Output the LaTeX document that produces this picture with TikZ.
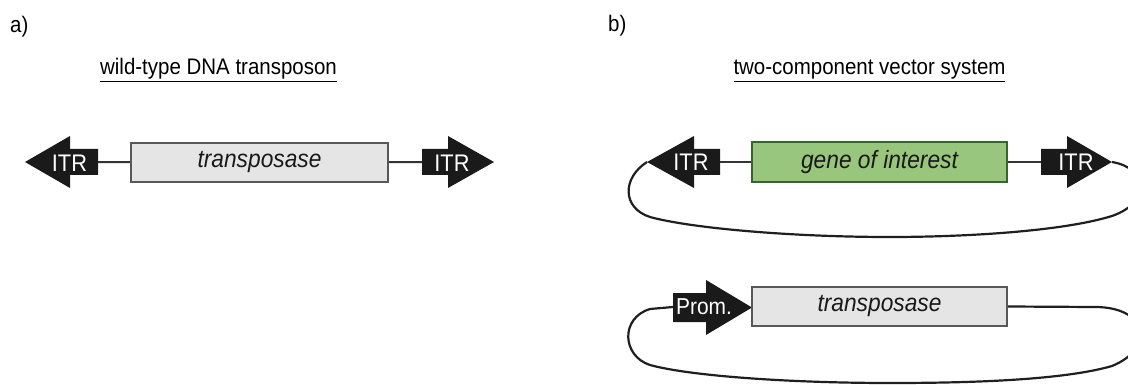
\documentclass[tikz,border=0pt]{standalone}
\usepackage{fontspec}
\setmainfont{Liberation Sans}[FakeStretch=0.91]
\usetikzlibrary{positioning}
\definecolor{boxgray}{RGB}{229,229,229}
\definecolor{boxline}{RGB}{88,88,88}
\definecolor{goifill}{RGB}{152,198,124}
\definecolor{goiline}{RGB}{56,100,48}
\definecolor{itrblack}{RGB}{26,26,26}

\tikzset{
  gene/.style={draw=boxline, fill=boxgray, line width=2.2pt, minimum width=257pt,
    minimum height=39pt, inner sep=0pt, text=black!90,
    font=\fontsize{25}{30}\selectfont\itshape},
  link/.style={draw=black!80, line width=2pt},
  dna/.style={draw=black!88, line width=2.2pt},
  title/.style={anchor=base, inner sep=0pt, font=\fontsize{22.5}{27}\selectfont},
  itrlabel/.style={text=white, inner sep=0pt, font=\fontsize{24}{28}\selectfont},
}

\begin{document}
\begin{tikzpicture}[x=1pt, y=-1pt]
    \useasboundingbox (0,0) rectangle (1128,385);

    % panel a: wild-type element
    \node[title, anchor=base west] (pa) at (10,33) {a)};
    \node[title] (wt) at (218.5,75) {\underline{wild-type DNA transposon}};

    \fill[itrblack, shift={(25,162)}] (0,0) -- (45,-26) -- (45,-13) -- (73,-13)
      -- (73,13) -- (45,13) -- (45,26) -- cycle;
    \fill[itrblack, shift={(494,162)}] (0,0) -- (-46,-26) -- (-46,-13) -- (-72,-13)
      -- (-72,13) -- (-46,13) -- (-46,26) -- cycle;
    \node[itrlabel] (itra1) at (69.5,163) {ITR};
    \node[itrlabel] (itra2) at (452,163) {ITR};
    \coordinate (enda1) at (98,162);
    \coordinate (enda2) at (422,162);

    \node[gene] (wtbox) at (259.5,162.5) {transposase};
    \draw[link] (enda1) -- (wtbox);
    \draw[link] (wtbox) -- (enda2);

    % panel b: donor plasmid and helper plasmid
    \node[title, anchor=base west] (pb) at (608,32) {b)};
    \node[title] (tc) at (869.5,75) {\underline{two-component vector system}};

    \fill[itrblack, shift={(647,162)}] (0,0) -- (47,-26) -- (47,-13) -- (73,-13)
      -- (73,13) -- (47,13) -- (47,26) -- cycle;
    \fill[itrblack, shift={(1112,162)}] (0,0) -- (-45,-26) -- (-45,-13) -- (-71,-13)
      -- (-71,13) -- (-45,13) -- (-45,26) -- cycle;
    \node[itrlabel] (itrb1) at (691,162) {ITR};
    \node[itrlabel] (itrb2) at (1076,162) {ITR};
    \coordinate (endb1) at (720,162);
    \coordinate (endb2) at (1041,162);
    \coordinate (tipb1) at (647,162);
    \coordinate (tipb2) at (1112,162);

    \node[gene, draw=goiline, fill=goifill, minimum width=255pt, minimum height=40pt]
      (goibox) at (879.5,162) {gene of interest};
    \draw[link] (endb1) -- (goibox);
    \draw[link] (goibox) -- (endb2);

    % backbone of the donor
    \draw[dna] (tipb2) .. controls (1148,168) and (1152,202) .. (1112,216)
      .. controls (1060,232) and (960,237) .. (890,237)
      .. controls (790,237) and (690,228) .. (650,217)
      .. controls (622,208) and (622,178) .. (tipb1);

    % helper with promoter
    \fill[itrblack, shift={(673,307.5)}] (0,-14.5) -- (33,-14.5) -- (33,-27.5) -- (79,0)
      -- (33,27.5) -- (33,14.5) -- (0,14.5) -- cycle;
    \node[itrlabel, font=\fontsize{23}{27}\selectfont] (prom) at (704,307) {Prom.};
    \coordinate (promtail) at (673,307);

    \node[gene, minimum width=255pt] (tpbox) at (879.5,306.5) {transposase};

    \draw[dna] (tpbox.east) -- (1095,307)
      .. controls (1148,307) and (1156,348) .. (1112,366)
      .. controls (1060,381) and (960,383) .. (890,383)
      .. controls (790,383) and (690,376) .. (650,365)
      .. controls (622,356) and (620,318) .. (650,309) -- (promtail);
\end{tikzpicture}
\end{document}
